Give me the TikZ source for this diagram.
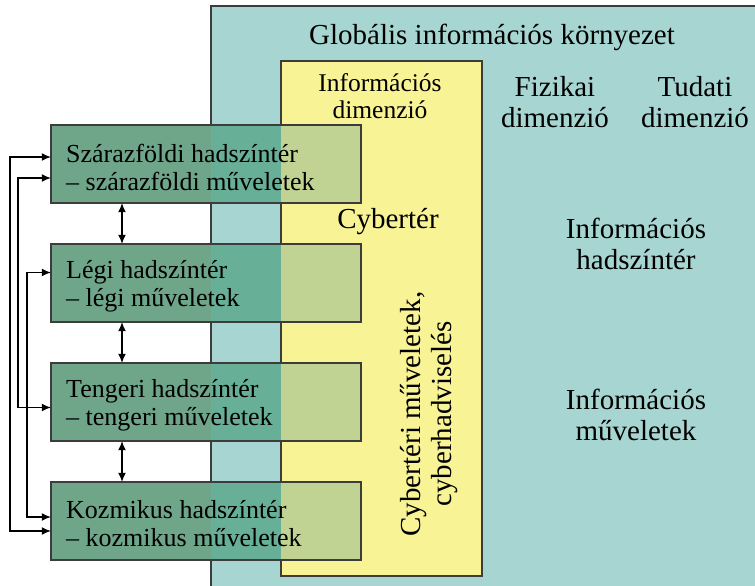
\documentclass[tikz,border=0pt]{standalone}
\usepackage{fontspec}
\setmainfont{Liberation Serif}
\usetikzlibrary{arrows.meta,calc}
\definecolor{tealbg}{HTML}{A7D5D2}
\definecolor{yelbg}{HTML}{F8F395}
\definecolor{grW}{HTML}{6FA68A}
\definecolor{grT}{HTML}{68AF98}
\definecolor{grY}{HTML}{C0D392}
\definecolor{edge}{HTML}{3C3C3C}
\tikzset{
  bigtxt/.style={font=\fontsize{29}{31}\selectfont, align=center, inner sep=0pt},
  midtxt/.style={font=\fontsize{25.5}{27}\selectfont, align=center, inner sep=0pt},
  boxtxt/.style={font=\fontsize{26}{28}\selectfont, align=left, inner sep=0pt, anchor=west},
  warbox/.style={draw=none, minimum width=310pt, minimum height=78pt, inner sep=0pt},
  link/.style={{Latex[length=9pt,width=8pt]}-{Latex[length=9pt,width=8pt]}, line width=1.1pt, black},
}
\begin{document}
\begin{tikzpicture}[x=1pt,y=-1pt]
\useasboundingbox (0,0) rectangle (755,586);
% global environment
\fill[tealbg] (211,6) rectangle (760,590);
\draw[edge, line width=1.2pt] (211,590) -- (211,6) -- (760,6);
% yellow information dimension
\fill[yelbg] (281,61) rectangle (482,576);
\draw[edge, line width=1.2pt] (281,61) rectangle (482,576);
% domain boxes
\foreach \t/\n in {125/b1,244/b2,363/b3,482/b4}{
  \fill[grW] (51,\t) rectangle (211,\t+78);
  \fill[grT] (211,\t) rectangle (281,\t+78);
  \fill[grY] (281,\t) rectangle (361,\t+78);
  \draw[edge, line width=1.1pt] (51,\t) rectangle (361,\t+78);
  \node[warbox] (\n) at (206,\t+39) {};
}
% texts
\node[bigtxt] (title) at (492,37) {Globális információs környezet};
\node[midtxt] (infdim) at (380,96) {Információs\\dimenzió};
\node[bigtxt] (fizdim) at (555,102) {Fizikai\\dimenzió};
\node[bigtxt] (tuddim) at (695,102) {Tudati\\dimenzió};
\node[bigtxt] (cyber) at (388,222) {Cybertér};
\node[bigtxt] (infhad) at (636,244) {Információs\\hadszíntér};
\node[bigtxt] (infmuv) at (636,415) {Információs\\műveletek};
\node[bigtxt, rotate=90] (cybmuv) at (429,414) {Cybertéri műveletek,\\cyberhadviselés};
\node[boxtxt] (t1) at (66,167) {Szárazföldi hadszíntér\\– szárazföldi műveletek};
\node[boxtxt] (t2) at (66,286) {Légi hadszíntér\\– légi műveletek};
\node[boxtxt] (t3) at (66,405) {Tengeri hadszíntér\\– tengeri műveletek};
\node[boxtxt] (t4) at (66,524) {Kozmikus hadszíntér\\– kozmikus műveletek};
% connectors
\coordinate (vx) at (122,0);
\draw[link] (b1.south -| vx) -- (b2.north -| vx);
\draw[link] (b2.south -| vx) -- (b3.north -| vx);
\draw[link] (b3.south -| vx) -- (b4.north -| vx);
\coordinate (xa) at (10,0);
\coordinate (xb) at (18,0);
\coordinate (xc) at (27,0);
\draw[link] ($(b1.west)+(0,-7)$) -| (xa |- {$(b4.west)+(0,10)$}) -- ($(b4.west)+(0,10)$);
\draw[link] ($(b1.west)+(0,14)$) -| (xb |- {$(b3.west)+(0,5.5)$}) -- ($(b3.west)+(0,5.5)$);
\draw[link] ($(b2.west)+(0,-10.5)$) -| (xc |- {$(b4.west)+(0,-4)$}) -- ($(b4.west)+(0,-4)$);
\end{tikzpicture}
\end{document}
